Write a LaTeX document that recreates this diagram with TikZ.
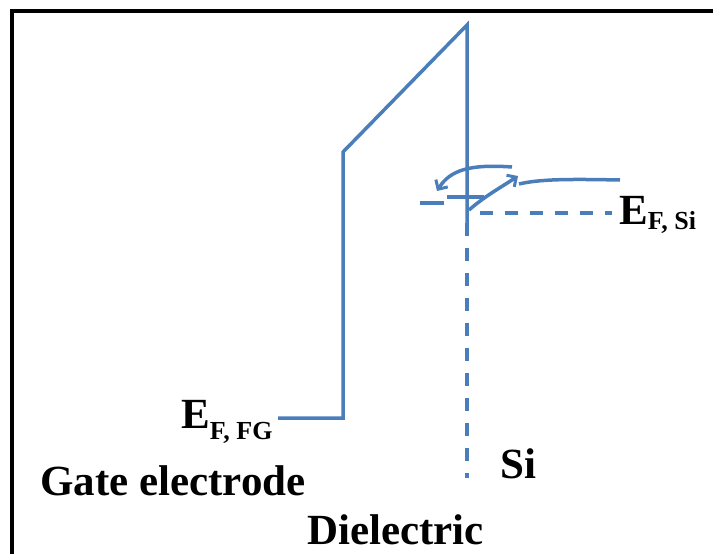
\documentclass[tikz,border=0pt]{standalone}
\usepackage{fontspec}
\setmainfont{Liberation Serif}
\usetikzlibrary{arrows.meta}
\definecolor{bandblue}{RGB}{74,126,187}
\newcommand{\lbl}[1]{\fontsize{43}{43}\selectfont\bfseries #1}
\newcommand{\sublbl}[2]{\raisebox{-#1pt}{\fontsize{26}{26}\selectfont\bfseries #2}}

\begin{document}
\begin{tikzpicture}[x=1pt,y=-1pt,
                    band/.style={bandblue,line width=3.5pt},
                    level/.style={bandblue,line width=3.5pt,dash pattern=on 13pt off 12pt},
                    hop/.style={bandblue,line width=3.5pt,-{Straight Barb[length=7pt,width=14pt,line width=3pt]}},
                    txt/.style={inner sep=0pt,anchor=base west}]
                    \useasboundingbox (0,0) rectangle (713,554);
                    \draw[line width=4pt] (12,556) -- (12,11) -- (715,11);
                    % band corners
                    \coordinate (FG) at (278,418);
                    \coordinate (A) at (343,418);
                    \coordinate (B) at (343,152);
                    \coordinate (C) at (467,25);
                    \coordinate (D) at (467,223);
                    \coordinate (SiB) at (467,478);
                    \coordinate (L1) at (420,203);
                    \coordinate (L2) at (444,203);
                    \coordinate (H1) at (447,197);
                    \coordinate (H2) at (484,197);
                    \coordinate (Y) at (469,210);
                    \coordinate (T) at (518,176);
                    \coordinate (R) at (620,180);
                    \coordinate (RE) at (519,184);
                    \coordinate (U1) at (512,167);
                    \coordinate (U2) at (437,191);
                    \coordinate (FS) at (480,213);
                    \coordinate (FSE) at (612,213);
                    \draw[band,line join=miter] (FG) -- (A) -- (B) -- (C) -- (D);
                    \draw[level] (D) -- (SiB);
                    \draw[level] (FS) -- (FSE);
                    \draw[band] (L1) -- (L2);
                    \draw[band] (H1) -- (H2);
                    \draw[hop] (Y) .. controls (485,196) and (500,188) .. (T);
                    \draw[band] (R) .. controls (570,179) and (540,179) .. (RE);
                    \draw[hop] (U1) .. controls (470,164) and (450,170) .. (U2);
                    % labels
                    \node[txt] (efsi) at (619,224) {\lbl{E}\sublbl{5}{F, Si}};
                    \node[txt] (effg) at (181,428) {\lbl{E}\sublbl{11}{F, FG}};
                    \node[txt] (gate) at (40,495) {\lbl{Gate electrode}};
                    \node[txt] (si) at (500,478) {\lbl{Si}};
                    \node[txt] (diel) at (307,544) {\lbl{Dielectric}};
                    \end{tikzpicture}
\end{document}
